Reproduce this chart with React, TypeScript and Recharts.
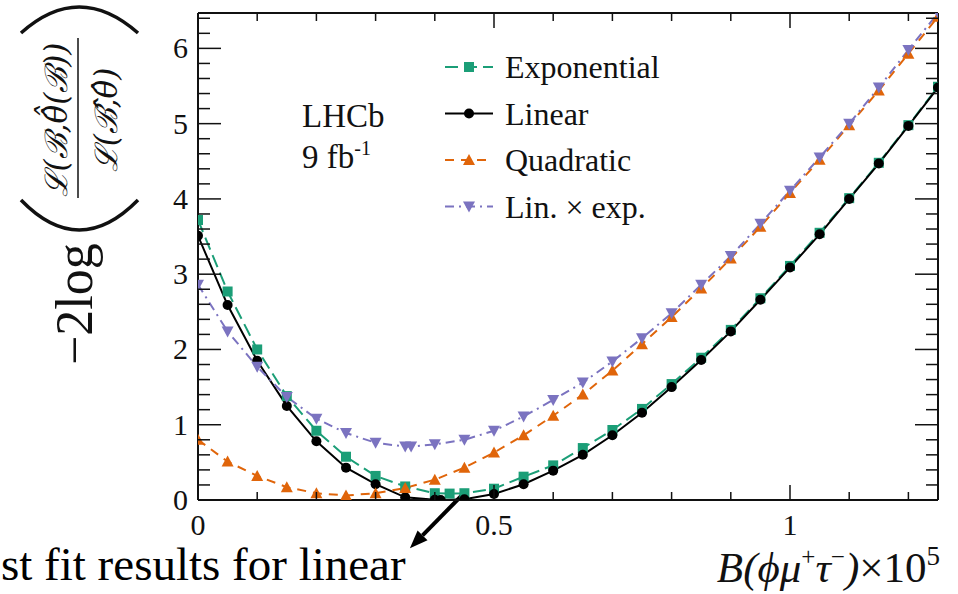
import React from "react";
import { LineChart, Line, XAxis, YAxis, Legend, ReferenceLine } from "recharts";

const SERIF = '"Liberation Serif", "Times New Roman", serif';
const MATH = '"DejaVu Serif", "Liberation Serif", serif';
const INK = "#111";

// scan points, B(phi mu tau) x 1e5 vs -2 log L ratio
const exponentialX = [0, 0.05, 0.1, 0.15, 0.2, 0.25, 0.3, 0.35, 0.4, 0.425, 0.45, 0.5, 0.55, 0.6, 0.65, 0.7, 0.75, 0.8, 0.85, 0.9, 0.95, 1.0, 1.05, 1.1, 1.15, 1.2, 1.25];
const exponentialNll = [3.72, 2.77, 2.0, 1.38, 0.92, 0.575, 0.32, 0.18, 0.09, 0.085, 0.09, 0.15, 0.31, 0.46, 0.69, 0.93, 1.21, 1.54, 1.89, 2.26, 2.68, 3.11, 3.55, 4.01, 4.48, 4.98, 5.49];

const linearX = [0, 0.05, 0.1, 0.15, 0.2, 0.25, 0.3, 0.35, 0.4, 0.41, 0.45, 0.5, 0.55, 0.6, 0.65, 0.7, 0.75, 0.8, 0.85, 0.9, 0.95, 1.0, 1.05, 1.1, 1.15, 1.2, 1.25];
const linearNll = [3.51, 2.59, 1.85, 1.25, 0.78, 0.43, 0.21, 0.035, 0.003, 0.0, 0.01, 0.08, 0.21, 0.39, 0.6, 0.86, 1.16, 1.5, 1.86, 2.24, 2.66, 3.09, 3.53, 4.0, 4.47, 4.97, 5.48];

const quadraticX = [0, 0.05, 0.1, 0.15, 0.2, 0.25, 0.3, 0.35, 0.4, 0.45, 0.5, 0.55, 0.6, 0.65, 0.7, 0.75, 0.8, 0.85, 0.9, 0.95, 1.0, 1.05, 1.1, 1.15, 1.2, 1.25];
const quadraticNll = [0.8, 0.51, 0.32, 0.17, 0.09, 0.06, 0.09, 0.16, 0.27, 0.43, 0.63, 0.86, 1.12, 1.4, 1.72, 2.07, 2.43, 2.81, 3.21, 3.63, 4.08, 4.52, 4.98, 5.44, 5.93, 6.42];

const linExpX = [0, 0.05, 0.1, 0.15, 0.2, 0.25, 0.3, 0.35, 0.36, 0.4, 0.45, 0.5, 0.55, 0.6, 0.65, 0.7, 0.75, 0.8, 0.85, 0.9, 0.95, 1.0, 1.05, 1.1, 1.15, 1.2, 1.25];
const linExpNll = [2.86, 2.24, 1.77, 1.37, 1.08, 0.89, 0.76, 0.71, 0.71, 0.74, 0.8, 0.92, 1.11, 1.33, 1.56, 1.84, 2.15, 2.48, 2.86, 3.24, 3.67, 4.11, 4.55, 5.0, 5.48, 5.98, 6.47];

const xTicks = [0, 0.1, 0.2, 0.3, 0.4, 0.5, 0.6, 0.7, 0.8, 0.9, 1.0, 1.1, 1.2];
const xMajor = [0, 0.5, 1];
const xLabels = ["0", "0.5", "1"];
const yTicks = [0, 0.2, 0.4, 0.6, 0.8, 1, 1.2, 1.4, 1.6, 1.8, 2, 2.2, 2.4, 2.6, 2.8, 3, 3.2, 3.4, 3.6, 3.8, 4, 4.2, 4.4, 4.6, 4.8, 5, 5.2, 5.4, 5.6, 5.8, 6, 6.2, 6.4];

const X_MAX = 1.25;
const Y_MAX = 6.47;

type Kind = "square" | "circle" | "up" | "down";

const series = [
  { name: "Exponential", xs: exponentialX, ys: exponentialNll, color: "#1b9e77", dash: "13 6", marker: "square" as Kind },
  { name: "Linear", xs: linearX, ys: linearNll, color: "#000000", dash: undefined, marker: "circle" as Kind },
  { name: "Quadratic", xs: quadraticX, ys: quadraticNll, color: "#e0650a", dash: "9 7", marker: "up" as Kind },
  { name: "Lin. \u00d7 exp.", xs: linExpX, ys: linExpNll, color: "#7b73c0", dash: "9 5 2 5", marker: "down" as Kind },
];

const toPoints = (xs: number[], ys: number[]) => xs.map((x, i) => ({ x, y: ys[i] }));

function Marker({ kind, cx, cy, color }: { kind: Kind; cx: number; cy: number; color: string }) {
  if (cx == null || cy == null) return null;
  if (kind === "square") return <rect x={cx - 5} y={cy - 5} width={10} height={10} fill={color} />;
  if (kind === "circle") return <circle cx={cx} cy={cy} r={5} fill={color} />;
  if (kind === "up")
    return <polygon points={`${cx},${cy - 6} ${cx - 6},${cy + 5} ${cx + 6},${cy + 5}`} fill={color} />;
  return <polygon points={`${cx - 6},${cy - 5} ${cx + 6},${cy - 5} ${cx},${cy + 6}`} fill={color} />;
}

const isMajorX = (v: number) => xMajor.some((m) => Math.abs(m - v) < 1e-6);
const isMajorY = (v: number) => Math.abs(v - Math.round(v)) < 1e-6;

function BottomTick(props: any) {
  const { x, y, payload } = props;
  const major = isMajorX(payload.value);
  const idx = xMajor.findIndex((m) => Math.abs(m - payload.value) < 1e-6);
  return (
    <g>
      <line x1={x} x2={x} y1={y} y2={y - (major ? 15 : 8)} stroke={INK} strokeWidth={1.5} />
      {major && (
        <text x={x} y={y + 35} textAnchor="middle" fontFamily={SERIF} fontSize={30} fill={INK}>
          {xLabels[idx]}
        </text>
      )}
    </g>
  );
}

function TopTick(props: any) {
  const { x, y, payload } = props;
  const major = isMajorX(payload.value);
  return <line x1={x} x2={x} y1={y} y2={y + (major ? 15 : 8)} stroke={INK} strokeWidth={1.5} />;
}

function LeftTick(props: any) {
  const { x, y, payload } = props;
  const major = isMajorY(payload.value);
  return (
    <g>
      <line x1={x} x2={x + (major ? 23 : 12)} y1={y} y2={y} stroke={INK} strokeWidth={1.5} />
      {major && (
        <text x={x - 10} y={y + 10} textAnchor="end" fontFamily={SERIF} fontSize={30} fill={INK}>
          {Math.round(payload.value)}
        </text>
      )}
    </g>
  );
}

function RightTick(props: any) {
  const { x, y, payload } = props;
  const major = isMajorY(payload.value);
  return <line x1={x} x2={x - (major ? 23 : 12)} y1={y} y2={y} stroke={INK} strokeWidth={1.5} />;
}

function XTitle(props: any) {
  const vb = props.viewBox;
  return (
    <text x={vb.x + vb.width + 2} y={vb.y + 82} textAnchor="end" fontFamily={SERIF} fontSize={43} fill={INK}>
      <tspan fontStyle="italic">B(ϕμ</tspan>
      <tspan dy={-17} fontSize={25}>+</tspan>
      <tspan dy={17} fontStyle="italic">τ</tspan>
      <tspan dy={-17} fontSize={25}>−</tspan>
      <tspan dy={17} fontStyle="italic">)</tspan>
      <tspan>×10</tspan>
      <tspan dy={-17} fontSize={27}>5</tspan>
    </text>
  );
}

function YTitle(props: any) {
  const vb = props.viewBox;
  const ox = vb.x + vb.width - 120;
  const oy = vb.y + 352;
  return (
    <g transform={`translate(${ox},${oy}) rotate(-90)`}>
      <text x={0} y={14} fontSize={52} fontFamily={SERIF} fill={INK}>
        −2log
      </text>
      <path d="M165,-57 Q105,1 165,60" fill="none" stroke={INK} strokeWidth={3.5} />
      <path d="M332,-57 Q384,1 332,60" fill="none" stroke={INK} strokeWidth={3.5} />
      <line x1={167} x2={327} y1={0} y2={0} stroke={INK} strokeWidth={1.5} />
      <text x={245} y={-11} fontSize={31} textAnchor="middle" fontFamily={MATH} fontStyle="italic" fill={INK}>
        ℒ(ℬ,θ̂̂(ℬ))
      </text>
      <text x={245} y={39} fontSize={31} textAnchor="middle" fontFamily={MATH} fontStyle="italic" fill={INK}>
        ℒ(ℬ̂,θ̂)
      </text>
    </g>
  );
}

function ArrowShape(props: any) {
  const { x1, y1, x2, y2 } = props;
  const ang = Math.atan2(y2 - y1, x2 - x1);
  const bx = x2 - 18 * Math.cos(ang);
  const by = y2 - 18 * Math.sin(ang);
  const px = -Math.sin(ang) * 7;
  const py = Math.cos(ang) * 7;
  return (
    <g>
      <line x1={x1} y1={y1} x2={bx} y2={by} stroke="#000" strokeWidth={4} />
      <polygon points={`${x2},${y2} ${bx + px},${by + py} ${bx - px},${by - py}`} fill="#000" />
      <text x={1} y={y2 + 32} fontFamily={SERIF} fontSize={47} fill="#000">
        st fit results for linear
      </text>
    </g>
  );
}

function LegendBox() {
  return (
    <svg width={400} height={200} style={{ display: "block", overflow: "visible" }}>
      <text x={12} y={87} fontFamily={SERIF} fontSize={33} fill={INK}>
        LHCb
      </text>
      <text x={12} y={128} fontFamily={SERIF} fontSize={33} fill={INK}>
        9 fb<tspan dy={-13} fontSize={20}>-1</tspan>
      </text>
      {series.map((s, i) => {
        const cy = 27 + i * 46.5;
        return (
          <g key={s.name}>
            <line x1={155} x2={203} y1={cy} y2={cy} stroke={s.color} strokeWidth={2} strokeDasharray={s.dash} />
            <Marker kind={s.marker} cx={179} cy={cy} color={s.color} />
            <text x={215} y={cy + 11} fontFamily={SERIF} fontSize={32} fill={INK}>
              {s.name}
            </text>
          </g>
        );
      })}
    </svg>
  );
}

const AXIS = { stroke: INK, strokeWidth: 2 };

export default function App() {
  return (
    <div style={{ position: "absolute", left: 0, top: 0, width: 958, height: 594, background: "#fff", overflow: "hidden" }}>
      <LineChart width={958} height={594} margin={{ top: 12, right: 19, bottom: 93, left: 197 }}>
        <XAxis
          dataKey="x"
          type="number"
          domain={[0, X_MAX]}
          ticks={xTicks}
          interval={0}
          height={1}
          tickSize={0}
          tickMargin={0}
          tickLine={false}
          axisLine={AXIS}
          tick={BottomTick}
          allowDataOverflow
          label={<XTitle />}
        />
        <XAxis
          xAxisId="top"
          orientation="top"
          dataKey="x"
          type="number"
          domain={[0, X_MAX]}
          ticks={xTicks}
          interval={0}
          height={1}
          tickSize={0}
          tickMargin={0}
          tickLine={false}
          axisLine={AXIS}
          tick={TopTick}
          allowDataOverflow
        />
        <YAxis
          type="number"
          domain={[0, Y_MAX]}
          ticks={yTicks}
          interval={0}
          width={1}
          tickSize={0}
          tickMargin={0}
          tickLine={false}
          axisLine={AXIS}
          tick={LeftTick}
          allowDataOverflow
          label={<YTitle />}
        />
        <YAxis
          yAxisId="right"
          orientation="right"
          type="number"
          domain={[0, Y_MAX]}
          ticks={yTicks}
          interval={0}
          width={1}
          tickSize={0}
          tickMargin={0}
          tickLine={false}
          axisLine={AXIS}
          tick={RightTick}
          allowDataOverflow
        />
        {series.map((s) => (
          <Line
            key={s.name}
            name={s.name}
            data={toPoints(s.xs, s.ys)}
            dataKey="y"
            type="linear"
            stroke={s.color}
            strokeWidth={2}
            strokeDasharray={s.dash}
            dot={(p: any) => <Marker key={p.index} kind={s.marker} cx={p.cx} cy={p.cy} color={s.color} />}
            activeDot={false}
            isAnimationActive={false}
          />
        ))}
        <ReferenceLine
          segment={[
            { x: 0.448, y: 0.08 },
            { x: 0.358, y: -0.64 },
          ]}
          ifOverflow="visible"
          shape={ArrowShape}
        />
        <Legend
          layout="vertical"
          align="center"
          verticalAlign="middle"
          wrapperStyle={{ position: "absolute", left: 290, top: 40, width: 400 }}
          content={() => <LegendBox />}
        />
      </LineChart>
    </div>
  );
}
